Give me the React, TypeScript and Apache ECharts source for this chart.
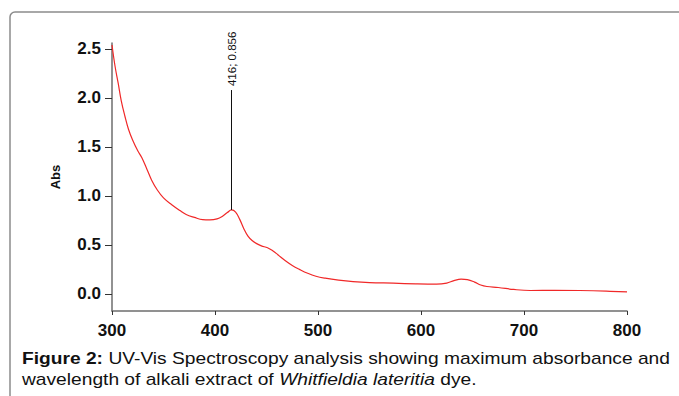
import React, { useEffect, useRef } from "react";
import * as echarts from "echarts";

const wavelengths = [
  300, 303, 306, 309, 312.6, 316, 320, 325, 329, 334, 338.5, 344, 350, 358, 366, 372, 380, 388, 395, 402,
  407, 412, 416, 420, 424, 428, 432, 436, 440, 445, 451, 456, 461, 468, 475, 482, 490, 498, 507, 520, 534,
  550, 573, 595, 615, 625, 632, 639, 645, 652, 658, 664, 675, 690, 706, 730, 754, 780, 800,
];
const absorbance = [
  2.54, 2.32, 2.15, 1.97, 1.81, 1.68, 1.57, 1.46, 1.39, 1.27, 1.16, 1.06, 0.98, 0.91, 0.85, 0.81, 0.78, 0.757, 0.755, 0.765,
  0.79, 0.83, 0.856, 0.835, 0.76, 0.665, 0.59, 0.545, 0.515, 0.49, 0.47, 0.44, 0.4, 0.34, 0.29, 0.25, 0.21, 0.18, 0.16, 0.14, 0.125,
  0.115, 0.109, 0.102, 0.099, 0.11, 0.135, 0.15, 0.145, 0.12, 0.09, 0.075, 0.065, 0.045, 0.034, 0.036, 0.034, 0.028, 0.02,
];
const yTicks = [0, 0.5, 1.0, 1.5, 2.0, 2.5];
const peak = { x: 416, y: 0.856, label: "416; 0.856", lineTop: 2.08 };
const captionLine1 = "{b|Figure 2:} UV-Vis Spectroscopy analysis showing maximum absorbance and";
const captionLine2 = "wavelength of alkali extract of {i|Whitfieldia lateritia} dye.";

const FONT = "'Liberation Sans', Arial, Helvetica, sans-serif";

export default function App() {
  const ref = useRef<HTMLDivElement>(null);
  useEffect(() => {
    if (!ref.current) return;
    const chart = echarts.init(ref.current, undefined, { renderer: "svg" });
    chart.setOption({
      animation: false,
      backgroundColor: "#fff",
      grid: { left: 112, right: 52, top: 43, bottom: 85, containLabel: false },
      xAxis: {
        type: "value",
        min: 300,
        max: 800,
        interval: 100,
        axisLine: { show: true, onZero: false, lineStyle: { color: "#6e6e6e", width: 1.5 } },
        axisTick: { show: true, length: 4, lineStyle: { color: "#333", width: 1 } },
        axisLabel: { margin: 11, color: "#111", fontWeight: "bold", fontSize: 17, fontFamily: FONT },
        splitLine: { show: false },
      },
      yAxis: {
        type: "value",
        min: -0.175,
        max: 2.56,
        name: "Abs",
        nameLocation: "middle",
        nameGap: 50,
        nameTextStyle: { color: "#111", fontWeight: "bold", fontSize: 13, fontFamily: FONT },
        axisLine: { show: true, onZero: false, lineStyle: { color: "#6e6e6e", width: 1.5 } },
        axisTick: { show: true, length: 7, customValues: yTicks, lineStyle: { color: "#333", width: 1 } },
        axisLabel: {
          margin: 11,
          customValues: yTicks,
          formatter: (v: number) => v.toFixed(1),
          color: "#111",
          fontWeight: "bold",
          fontSize: 17,
          fontFamily: FONT,
        },
        splitLine: { show: false },
      },
      series: [
        {
          type: "line",
          data: wavelengths.map((w, i) => [w, absorbance[i]]),
          smooth: 0.4,
          showSymbol: false,
          lineStyle: { color: "#f02828", width: 1.2 },
          markLine: {
            silent: true,
            symbol: "none",
            label: { show: false },
            lineStyle: { color: "#111", width: 1, type: "solid" },
            data: [[{ coord: [peak.x, peak.y] }, { coord: [peak.x, peak.lineTop] }]],
          },
          markPoint: {
            silent: true,
            symbol: "circle",
            symbolSize: 0,
            data: [
              {
                coord: [peak.x, peak.lineTop],
                label: {
                  show: true,
                  formatter: peak.label,
                  position: [1, -4],
                  rotate: 90,
                  align: "left",
                  verticalAlign: "middle",
                  color: "#111",
                  fontSize: 11.5,
                  fontFamily: FONT,
                },
              },
            ],
          },
        },
      ],
      graphic: [
        {
          type: "rect",
          shape: { x: 10, y: 12, width: 720, height: 420, r: 5 },
          style: { fill: "none", stroke: "#8c8c8c", lineWidth: 1.5 },
          silent: true,
        },
        {
          type: "text",
          x: 22,
          y: 359,
          scaleX: 1.2,
          style: {
            text: captionLine1,
            fontSize: 16,
            fontFamily: FONT,
            fill: "#111",
            verticalAlign: "middle",
            rich: {
              b: { fontWeight: "bold", fontSize: 16, fontFamily: FONT, fill: "#111" },
            },
          },
        },
        {
          type: "text",
          x: 22,
          y: 380,
          scaleX: 1.2,
          style: {
            text: captionLine2,
            fontSize: 16,
            fontFamily: FONT,
            fill: "#111",
            verticalAlign: "middle",
            rich: {
              i: { fontStyle: "italic", fontSize: 16, fontFamily: FONT, fill: "#111" },
            },
          },
        },
      ],
    });
    return () => chart.dispose();
  }, []);
  return (
    <div
      ref={ref}
      style={{ position: "absolute", left: 0, top: 0, width: 679, height: 396 }}
    />
  );
}
